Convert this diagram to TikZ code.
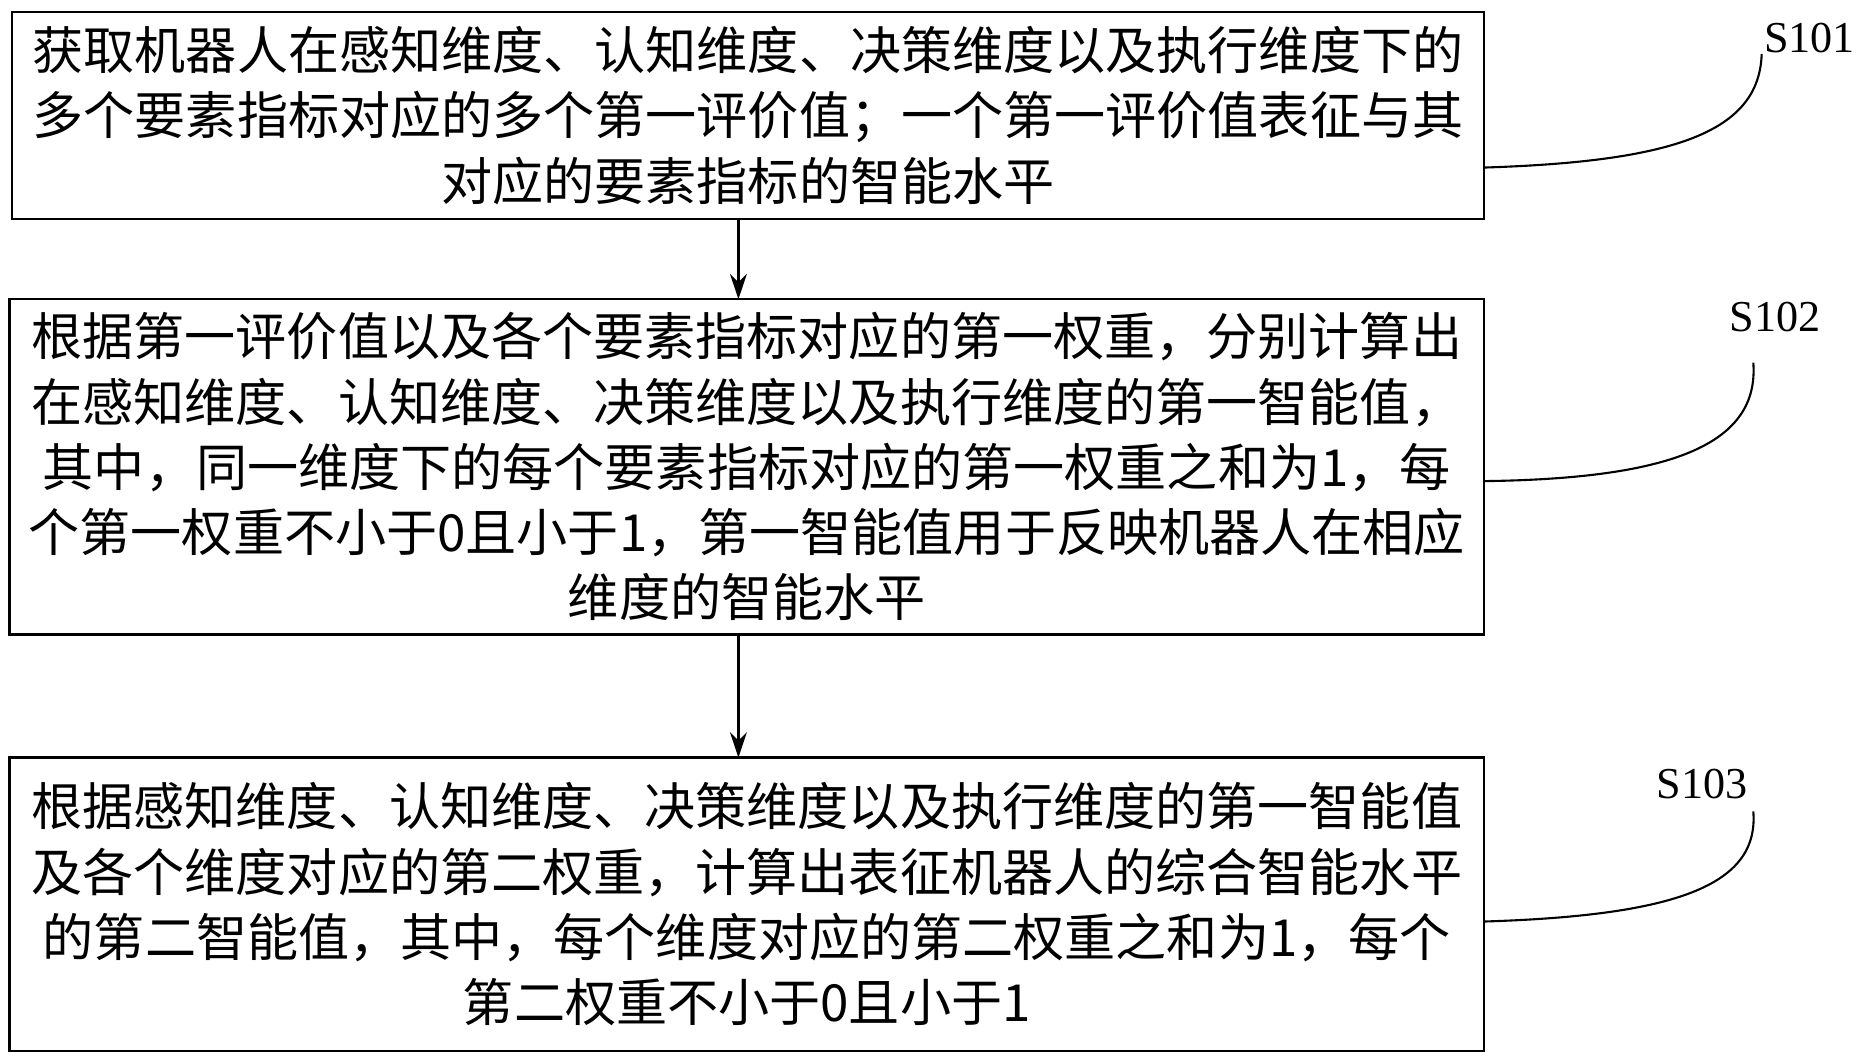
\documentclass[tikz,border=0pt]{standalone}
\usepackage{fontspec}
\setmainfont{Liberation Serif}
\newfontfamily\cjk{Noto Sans CJK SC}
\usetikzlibrary{arrows.meta}
\begin{document}
\begin{tikzpicture}[x=0.02cm,y=-0.02cm,
  stepbox/.style={draw,line width=1.2pt,inner sep=0pt},
  txt/.style={align=center,font=\cjk\fontsize{24.3}{31}\selectfont},
  lbl/.style={font=\fontsize{21}{24}\selectfont},
  arr/.style={-{Stealth[length=12pt,width=8pt]},line width=1.2pt}]
\useasboundingbox (0,0) rectangle (1560,879);
\node[stepbox,minimum width=1230*0.02cm,minimum height=173*0.02cm] (b1) at (625,96.5) {};
\node[txt] at (b1.center) {获取机器人在感知维度、认知维度、决策维度以及执行维度下的\\多个要素指标对应的多个第一评价值；一个第一评价值表征与其\\对应的要素指标的智能水平};
\node[stepbox,minimum width=1232*0.02cm,minimum height=280*0.02cm] (b2) at (624,390) {};
\node[txt] at (b2.center) {根据第一评价值以及各个要素指标对应的第一权重，分别计算出\\在感知维度、认知维度、决策维度以及执行维度的第一智能值，\\其中，同一维度下的每个要素指标对应的第一权重之和为1，每\\个第一权重不小于0且小于1，第一智能值用于反映机器人在相应\\维度的智能水平};
\node[stepbox,minimum width=1232*0.02cm,minimum height=245*0.02cm] (b3) at (624,755.5) {};
\node[txt] at (b3.center) {根据感知维度、认知维度、决策维度以及执行维度的第一智能值\\及各个维度对应的第二权重，计算出表征机器人的综合智能水平\\的第二智能值，其中，每个维度对应的第二权重之和为1，每个\\第二权重不小于0且小于1};
\draw[arr] (617,183) -- (617,250);
\draw[arr] (617,530) -- (617,633);
\node[lbl] (s1) at (1512,32) {S101};
\node[lbl] (s2) at (1483,265) {S102};
\node[lbl] (s3) at (1422,655) {S103};
\coordinate (c1) at (1240,140);
\coordinate (c2) at (1240,402);
\coordinate (c3) at (1240,770);
\draw[line width=1pt] (c1) .. controls (1400,135) and (1470,110) .. (1472,45);
\draw[line width=1pt] (c2) .. controls (1400,400) and (1470,370) .. (1465,303);
\draw[line width=1pt] (c3) .. controls (1400,765) and (1470,740) .. (1465,678);
\end{tikzpicture}
\end{document}
